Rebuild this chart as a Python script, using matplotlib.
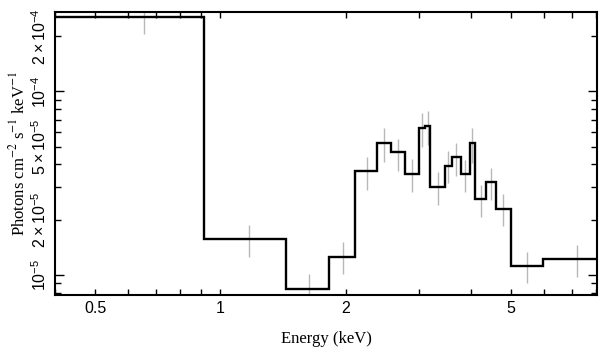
import math
import matplotlib
matplotlib.use('agg')
import matplotlib.pyplot as plt
import matplotlib.ticker as mticker

# model step: bin edges (keV) and model flux
edges = [0.35, 0.915, 1.44, 1.82, 2.11, 2.38, 2.57, 2.78, 3.00, 3.11, 3.20,
         3.46, 3.61, 3.78, 3.98, 4.10, 4.36, 4.60, 4.99, 5.97, 8.7]
model = [2.56e-4, 1.57e-5, 8.38e-6, 1.26e-5, 3.70e-5, 5.25e-5, 4.65e-5,
         3.55e-5, 6.32e-5, 6.50e-5, 3.03e-5, 3.94e-5, 4.39e-5, 3.53e-5,
         5.27e-5, 2.59e-5, 3.20e-5, 2.30e-5, 1.117e-5, 1.22e-5]

# data error bars: bin centre, upper and lower flux
dataE = [0.656, 1.174, 1.632, 1.970, 2.251, 2.474, 2.673, 2.888, 3.060, 3.157,
         3.337, 3.527, 3.696, 3.885, 4.038, 4.245, 4.470, 4.786, 5.467, 7.213]
errHi = [3.0e-4, 1.88e-5, 1.01e-5, 1.51e-5, 4.42e-5, 6.32e-5, 5.52e-5,
         4.28e-5, 7.63e-5, 7.78e-5, 3.66e-5, 4.71e-5, 5.27e-5, 4.24e-5,
         6.32e-5, 3.10e-5, 3.84e-5, 2.76e-5, 1.34e-5, 1.46e-5]
errLo = [2.05e-4, 1.25e-5, 7.0e-6, 1.015e-5, 2.91e-5, 4.15e-5, 3.70e-5,
         2.83e-5, 5.01e-5, 5.12e-5, 2.41e-5, 3.17e-5, 3.47e-5, 2.82e-5,
         4.10e-5, 2.08e-5, 2.57e-5, 1.84e-5, 9.03e-6, 9.74e-6]

xMajor = [0.5, 1, 2, 5]
xMinor = [0.4, 0.6, 0.7, 0.8, 0.9, 3, 4, 6, 7, 8]

plt.rcParams['mathtext.fontset'] = 'custom'
plt.rcParams['mathtext.rm'] = 'Liberation Sans'
plt.rcParams['font.family'] = ['Liberation Sans', 'DejaVu Sans']

fig = plt.figure(figsize=(6.09, 3.57), dpi=100)
ax = fig.add_axes([0.0903, 0.1737, 0.89, 0.7927])
ax.set_xscale('log')
ax.set_yscale('log')

ax.vlines(dataE, errLo, errHi, color='#b8b8b8', lw=1.0, zorder=1)
ax.stairs(model, edges, baseline=None, color='black', lw=1.7, zorder=2)

ax.set_xlim(0.4, 8.05)
ax.set_ylim(7.78e-6, 2.71e-4)

ax.xaxis.set_major_locator(mticker.FixedLocator(xMajor))
ax.xaxis.set_major_formatter(mticker.FixedFormatter(['0.5', '1', '2', '5']))
ax.xaxis.set_minor_locator(mticker.FixedLocator(xMinor))
ax.xaxis.set_minor_formatter(mticker.NullFormatter())

ax.yaxis.set_major_locator(mticker.LogLocator(base=10, numticks=10))
ax.yaxis.set_minor_locator(mticker.LogLocator(base=10, subs=range(2, 10), numticks=10))

def majFmt(v, pos):
    return r'$10^{%d}$' % round(math.log10(v))

def minFmt(v, pos):
    e = math.floor(math.log10(v) + 1e-9)
    m = round(v / 10**e)
    if m in (2, 5):
        return r'$%d\times10^{%d}$' % (m, e)
    return ''

ax.yaxis.set_major_formatter(mticker.FuncFormatter(majFmt))
ax.yaxis.set_minor_formatter(mticker.FuncFormatter(minFmt))

for s in ax.spines.values():
    s.set_linewidth(1.5)
ax.tick_params(which='both', direction='in', top=True, right=True, width=1.0,
               labelsize=11.5)
ax.tick_params(axis='x', which='major', length=4.5, pad=4)
ax.tick_params(axis='x', which='minor', length=4.0)
ax.tick_params(axis='y', which='major', length=6.5, pad=4, labelrotation=90)
ax.tick_params(axis='y', which='minor', length=4.0, pad=4, labelrotation=90)
for lab in ax.get_yticklabels(which='both'):
    lab.set_verticalalignment('center')

ax.set_xlabel('Energy (keV)', family=['Liberation Serif', 'DejaVu Serif'],
              fontsize=12, labelpad=11)
ax.set_ylabel(r'Photons cm$^{-2}$ s$^{-1}$ keV$^{-1}$', math_fontfamily='stix',
              family=['Liberation Serif', 'DejaVu Serif'], fontsize=12, labelpad=2)

plt.savefig('out.png', dpi=100)
